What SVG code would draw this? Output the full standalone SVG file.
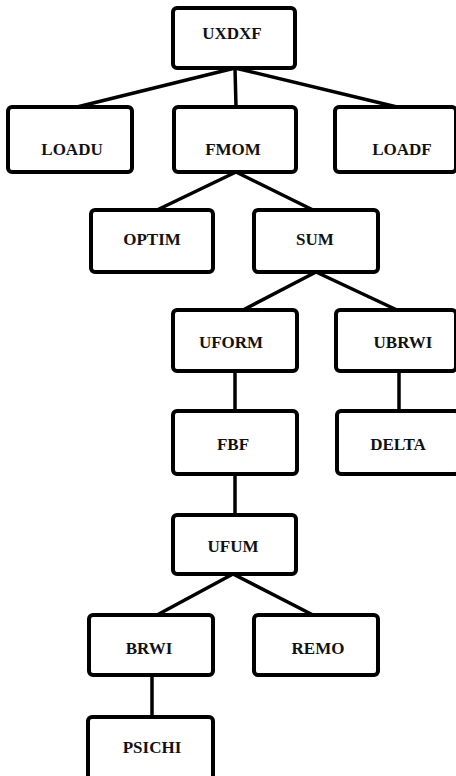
<svg xmlns="http://www.w3.org/2000/svg" width="456" height="776" viewBox="0 0 456 776">
<style>
.box{fill:#fff;stroke:#000;stroke-width:4}
.lbl{font-family:"Liberation Serif",serif;font-weight:bold;font-size:17px;text-anchor:middle;fill:#111}
.con line{stroke:#000;stroke-width:3.5;stroke-linecap:round}
</style>
<rect width="456" height="776" fill="#fff"/>
<g class="con" id="connectors">
<line x1="235" y1="68" x2="77" y2="107"/>
<line x1="235" y1="68" x2="236" y2="107"/>
<line x1="235" y1="68" x2="397" y2="107"/>
<line x1="236" y1="172" x2="157" y2="210"/>
<line x1="236" y1="172" x2="313" y2="210"/>
<line x1="316" y1="272" x2="243" y2="310"/>
<line x1="316" y1="272" x2="397" y2="310"/>
<line x1="235" y1="371" x2="235" y2="411"/>
<line x1="399" y1="371" x2="399" y2="411"/>
<line x1="235" y1="474" x2="235" y2="515"/>
<line x1="233" y1="574" x2="157" y2="615"/>
<line x1="233" y1="574" x2="313" y2="615"/>
<line x1="152" y1="675" x2="152" y2="717"/>
</g>
<g id="UXDXF"><rect class="box" x="173" y="8" width="122" height="60" rx="4"/><text class="lbl" x="232" y="39">UXDXF</text></g>
<g id="LOADU"><rect class="box" x="8" y="107" width="124" height="65" rx="4"/><text class="lbl" x="72" y="155">LOADU</text></g>
<g id="FMOM"><rect class="box" x="174" y="107" width="122" height="65" rx="4"/><text class="lbl" x="233" y="155">FMOM</text></g>
<g id="LOADF"><rect class="box" x="335" y="107" width="121" height="65" rx="4"/><text class="lbl" x="402" y="155">LOADF</text></g>
<g id="OPTIM"><rect class="box" x="91" y="210" width="122" height="62" rx="4"/><text class="lbl" x="152" y="245">OPTIM</text></g>
<g id="SUM"><rect class="box" x="254" y="210" width="124" height="62" rx="4"/><text class="lbl" x="315" y="245">SUM</text></g>
<g id="UFORM"><rect class="box" x="173" y="310" width="124" height="61" rx="4"/><text class="lbl" x="231" y="348">UFORM</text></g>
<g id="UBRWI"><rect class="box" x="336" y="310" width="120" height="61" rx="4"/><text class="lbl" x="403" y="348">UBRWI</text></g>
<g id="FBF"><rect class="box" x="173" y="411" width="124" height="63" rx="4"/><text class="lbl" x="233" y="450">FBF</text></g>
<g id="DELTA"><rect class="box" x="337" y="411" width="122" height="63" rx="4"/><text class="lbl" x="398" y="450">DELTA</text></g>
<g id="UFUM"><rect class="box" x="173" y="515" width="123" height="59" rx="4"/><text class="lbl" x="233" y="552">UFUM</text></g>
<g id="BRWI"><rect class="box" x="89" y="615" width="124" height="60" rx="4"/><text class="lbl" x="149" y="654">BRWI</text></g>
<g id="REMO"><rect class="box" x="254" y="615" width="124" height="60" rx="4"/><text class="lbl" x="318" y="654">REMO</text></g>
<g id="PSICHI"><rect class="box" x="88" y="717" width="125" height="80" rx="4"/><text class="lbl" x="152" y="753">PSICHI</text></g>
</svg>
